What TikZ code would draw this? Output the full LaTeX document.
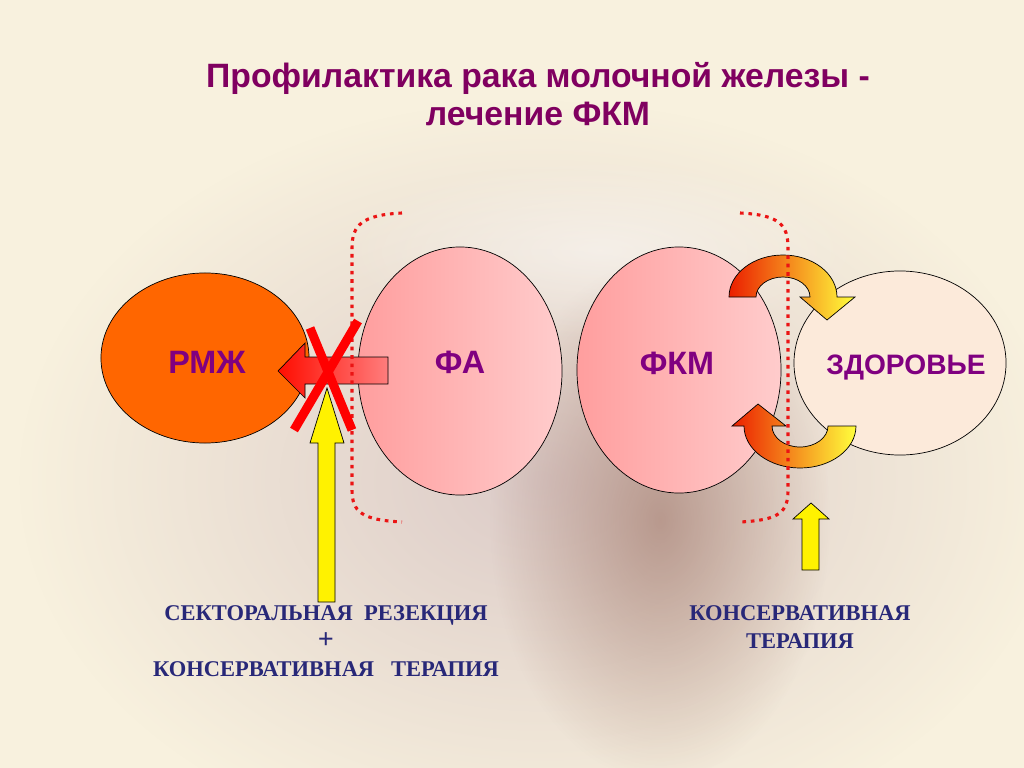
\documentclass[tikz,border=0pt]{standalone}
\usepackage{fontspec}
\setmainfont{Liberation Serif}
\setsansfont{Liberation Sans}
\usetikzlibrary{positioning, shapes.geometric, arrows.meta, fadings}

\definecolor{bgcream}{RGB}{248,241,222}
\definecolor{photogrey}{RGB}{220,203,200}
\definecolor{photobrown}{RGB}{150,105,90}
\definecolor{tagpurple}{RGB}{128,0,128}
\definecolor{titlepurple}{RGB}{128,0,96}
\definecolor{notenavy}{RGB}{40,40,120}
\definecolor{rmzhorange}{RGB}{255,102,0}
\definecolor{pinkdark}{RGB}{255,158,158}
\definecolor{pinklight}{RGB}{255,204,204}
\definecolor{healthpeach}{RGB}{252,234,218}
\definecolor{dotred}{RGB}{235,20,20}
\definecolor{arrred}{RGB}{235,30,0}
\definecolor{arrorange}{RGB}{250,160,40}
\definecolor{arryellow}{RGB}{255,255,60}

\tikzfading[name=softedge, inner color=transparent!0, outer color=transparent!100]

\begin{document}
\begin{tikzpicture}[x=0.025cm, y=-0.025cm,
    blob/.style={ellipse, draw=black, line width=0.5pt, inner sep=0pt},
    tag/.style={font=\sffamily\bfseries\fontsize{23}{26}\selectfont, text=tagpurple},
    fat/.style={draw=black, line width=0.5pt},
    bracket/.style={draw=dotred, line width=2.2pt, dash pattern=on 2.6pt off 3.4pt},
    cross/.style={draw=red, line width=6.4pt},
    note/.style={font=\bfseries\fontsize{16}{20}\selectfont, text=notenavy, align=center}]
  % backdrop
  \fill[bgcream] (0,0) rectangle (1024,768);
  \useasboundingbox (0,0) rectangle (1024,768);
  \fill[photogrey, path fading=softedge] (540,480) ellipse [x radius=520, y radius=380];
  \fill[photobrown, fill opacity=0.55, path fading=softedge] (660,520) ellipse [x radius=170, y radius=260];
  \fill[white, fill opacity=0.45, path fading=softedge] (600,250) ellipse [x radius=260, y radius=90];

  % title
  \node[font=\sffamily\bfseries\fontsize{24}{27}\selectfont, text=titlepurple, align=center]
    (title) at (538,94) {Профилактика рака молочной железы -\\лечение ФКМ};

  % ellipses
  \node[blob, fill=rmzhorange, minimum width=5.2cm, minimum height=4.25cm] (rmzh) at (205,358) {};
  \node[blob, left color=pinkdark, right color=pinklight, minimum width=5.1cm, minimum height=6.2cm] (fa) at (460,371) {};
  \node[blob, left color=pinkdark, right color=pinklight, minimum width=5.1cm, minimum height=6.15cm] (fkm) at (679,370) {};
  \node[blob, fill=healthpeach, minimum width=5.3cm, minimum height=4.6cm] (zdorovye) at (900,363) {};

  % fa -> rmzh, blocked
  \shade[fat, left color=red!90!orange, right color={rgb,255:red,255;green,125;blue,125}]
    (388,357) -- (305,357) -- (305,343) -- (278,371) -- (305,398) -- (305,384) -- (388,384) -- cycle;

  % yellow arrows
  \filldraw[fat, fill=yellow] (318,602) -- (318,443) -- (310,443) -- (327,388) -- (344,443)
    -- (335,443) -- (335,602) -- cycle;
  \filldraw[fat, fill=yellow] (802,570) -- (802,519) -- (793,519) -- (811,503) -- (829,519)
    -- (819,519) -- (819,570) -- cycle;

  % fkm <-> zdorovye
  \shade[fat, left color=arrred, middle color=arrorange, right color=arryellow]
    (729,297) arc[start angle=180, end angle=360, x radius=54, y radius=42]
    -- (855,297) -- (827,320) -- (800,297) -- (810,297)
    arc[start angle=360, end angle=180, x radius=27, y radius=20] -- cycle;
  \shade[fat, left color=arrred, middle color=arrorange, right color=arryellow]
    (856,426) arc[start angle=0, end angle=180, x radius=56, y radius=42]
    -- (732,426) -- (758,404) -- (786,426) -- (772,426)
    arc[start angle=180, end angle=0, x radius=28, y radius=21] -- cycle;

  % dotted brackets
  \draw[bracket] (402,213) .. controls (362,215) and (352,225) .. (352,248)
    -- (352,490) .. controls (352,512) and (362,520) .. (402,522);
  \draw[bracket] (740,213) .. controls (780,215) and (788,225) .. (788,248)
    -- (788,490) .. controls (788,512) and (780,520) .. (740,522);

  % cross
  \draw[cross] (358,321) -- (294,430);
  \draw[cross] (310,328) -- (352,430);

  % labels
  \node[tag] (rmzhT) at (207,362) {РМЖ};
  \node[tag] (faT) at (460,362) {ФА};
  \node[tag] (fkmT) at (677,363) {ФКМ};
  \node[tag, font=\sffamily\bfseries\fontsize{20}{24}\selectfont] (zdorovyeT) at (906,367) {ЗДОРОВЬЕ};

  \node[note] (surgery) at (326,641) {СЕКТОРАЛЬНАЯ\ \ РЕЗЕКЦИЯ\\{\fontsize{20}{20}\selectfont +}\\КОНСЕРВАТИВНАЯ\ \ \ ТЕРАПИЯ};
  \node[note] (therapy) at (800,627) {КОНСЕРВАТИВНАЯ\\ТЕРАПИЯ};
\end{tikzpicture}
\end{document}
